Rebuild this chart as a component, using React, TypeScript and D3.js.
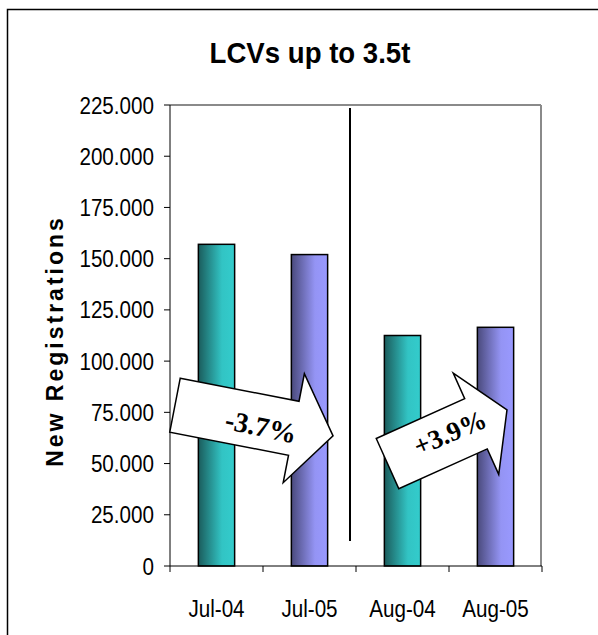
import React from "react";
import * as d3 from "d3";

const categories = ["Jul-04", "Jul-05", "Aug-04", "Aug-05"];
const values = [157000, 152000, 112500, 116500];
const seriesIndex = [0, 1, 0, 1];
const yTicks = [0, 25000, 50000, 75000, 100000, 125000, 150000, 175000, 200000, 225000];
const changeLabels = ["-3.7%", "+3.9%"];

const W = 598, H = 635;
const plot = { left: 170, right: 542, top: 105, bottom: 566 };

const fmt = (v: number) => (v === 0 ? "0" : d3.format(",.3f")(v / 1000).replace(",", ""));

export default function App() {
  const x = d3.scaleBand<string>().domain(categories).range([plot.left, plot.right]).padding(0);
  const y = d3.scaleLinear().domain([0, 225000]).range([plot.bottom, plot.top]);
  const barW = x.bandwidth() * 0.39;
  const sx = 0.86;

  const arrowPath = (L: number, hb: number, tw: number, hw: number) =>
    `M0,${-tw} L${hb},${-tw} L${hb},${-hw} L${L},0 L${hb},${hw} L${hb},${tw} L0,${tw} Z`;

  const arrows = [
    { x: x("Jul-04")! + 5, y: y(78500), angle: 11, L: 161, hb: 121, tx: 261, ty: y(68000), tAngle: 12, label: changeLabels[0], fs: 28 },
    { x: x("Aug-04")! + 31.5, y: y(50000), angle: -24.2, L: 131, hb: 97, tx: 450, ty: y(65000), tAngle: -23, label: changeLabels[1], fs: 27 },
  ];

  return (
    <svg width={W} height={H} style={{ position: "absolute", left: 0, top: 0, background: "#fff" }}>
      <defs>
        <linearGradient id="g0" x1="0" x2="1" y1="0" y2="0">
          <stop offset="0%" stopColor="#1b5c5c" />
          <stop offset="65%" stopColor="#32c4c4" />
          <stop offset="100%" stopColor="#33cccc" />
        </linearGradient>
        <linearGradient id="g1" x1="0" x2="1" y1="0" y2="0">
          <stop offset="0%" stopColor="#4a4a7c" />
          <stop offset="65%" stopColor="#9494f4" />
          <stop offset="100%" stopColor="#9999ff" />
        </linearGradient>
      </defs>
      <rect x={7.5} y={9.5} width={700} height={700} fill="#fff" stroke="#000" strokeWidth={1.5} />

      {/* title */}
      <text transform={`translate(310,63) scale(0.92,1)`} textAnchor="middle" fontFamily="Liberation Sans, Arial, sans-serif" fontWeight="bold" fontSize={30} fill="#000">
        LCVs up to 3.5t
      </text>

      {/* plot border */}
      <line x1={plot.left} x2={plot.right - 1} y1={plot.top} y2={plot.top} stroke="#8a8a8a" strokeWidth={2} />
      <line x1={plot.right - 1} x2={plot.right - 1} y1={plot.top} y2={plot.bottom} stroke="#8a8a8a" strokeWidth={2} />

      {/* divider */}
      <line x1={x("Aug-04")! - 6} x2={x("Aug-04")! - 6} y1={y(223500)} y2={y(12200)} stroke="#000" strokeWidth={2} />

      {/* bars */}
      {categories.map((c, i) => (
        <rect key={c} x={x(c)! + x.bandwidth() / 2 - barW / 2} y={y(values[i])} width={barW} height={y(0) - y(values[i])}
          fill={`url(#g${seriesIndex[i]})`} stroke="#000" strokeWidth={1.5} />
      ))}

      {/* y axis */}
      <line x1={plot.left} x2={plot.left} y1={plot.top} y2={plot.bottom} stroke="#000" strokeWidth={1} />
      {yTicks.map((t) => (
        <g key={t}>
          <line x1={plot.left - 6} x2={plot.left} y1={y(t)} y2={y(t)} stroke="#000" />
          <text transform={`translate(${plot.left - 16},${y(t) + 8.5}) scale(${sx},1)`} textAnchor="end"
            fontFamily="Liberation Sans, Arial, sans-serif" fontSize={24} fill="#000">{fmt(t)}</text>
        </g>
      ))}

      {/* x axis */}
      <line x1={plot.left} x2={plot.right} y1={plot.bottom} y2={plot.bottom} stroke="#000" strokeWidth={1} />
      {[...categories.map((c) => x(c)!), plot.right].map((px, i) => (
        <line key={i} x1={px} x2={px} y1={plot.bottom} y2={plot.bottom + 6} stroke="#000" />
      ))}
      {categories.map((c) => (
        <text key={c} transform={`translate(${x(c)! + x.bandwidth() / 2},617) scale(${sx},1)`} textAnchor="middle"
          fontFamily="Liberation Sans, Arial, sans-serif" fontSize={24} fill="#000">{c}</text>
      ))}

      {/* y label */}
      <text transform={`translate(63,341) rotate(-90)`} textAnchor="middle"
        fontFamily="Liberation Sans, Arial, sans-serif" fontWeight="bold" fontSize={23} letterSpacing={3} fill="#000">
        New Registrations
      </text>

      {/* arrows */}
      {arrows.map((a, i) => (
        <g key={i}>
          <path d={arrowPath(a.L, a.hb, 27.5, 55.5)} transform={`translate(${a.x},${a.y}) rotate(${a.angle})`}
            fill="#fff" stroke="#000" strokeWidth={1.5} strokeLinejoin="miter" />
          <text transform={`translate(${a.tx},${a.ty}) rotate(${a.tAngle})`} textAnchor="middle" dominantBaseline="central"
            fontFamily="Liberation Serif, Times New Roman, serif" fontWeight="bold" fontSize={a.fs} fill="#000">{a.label}</text>
        </g>
      ))}
    </svg>
  );
}
